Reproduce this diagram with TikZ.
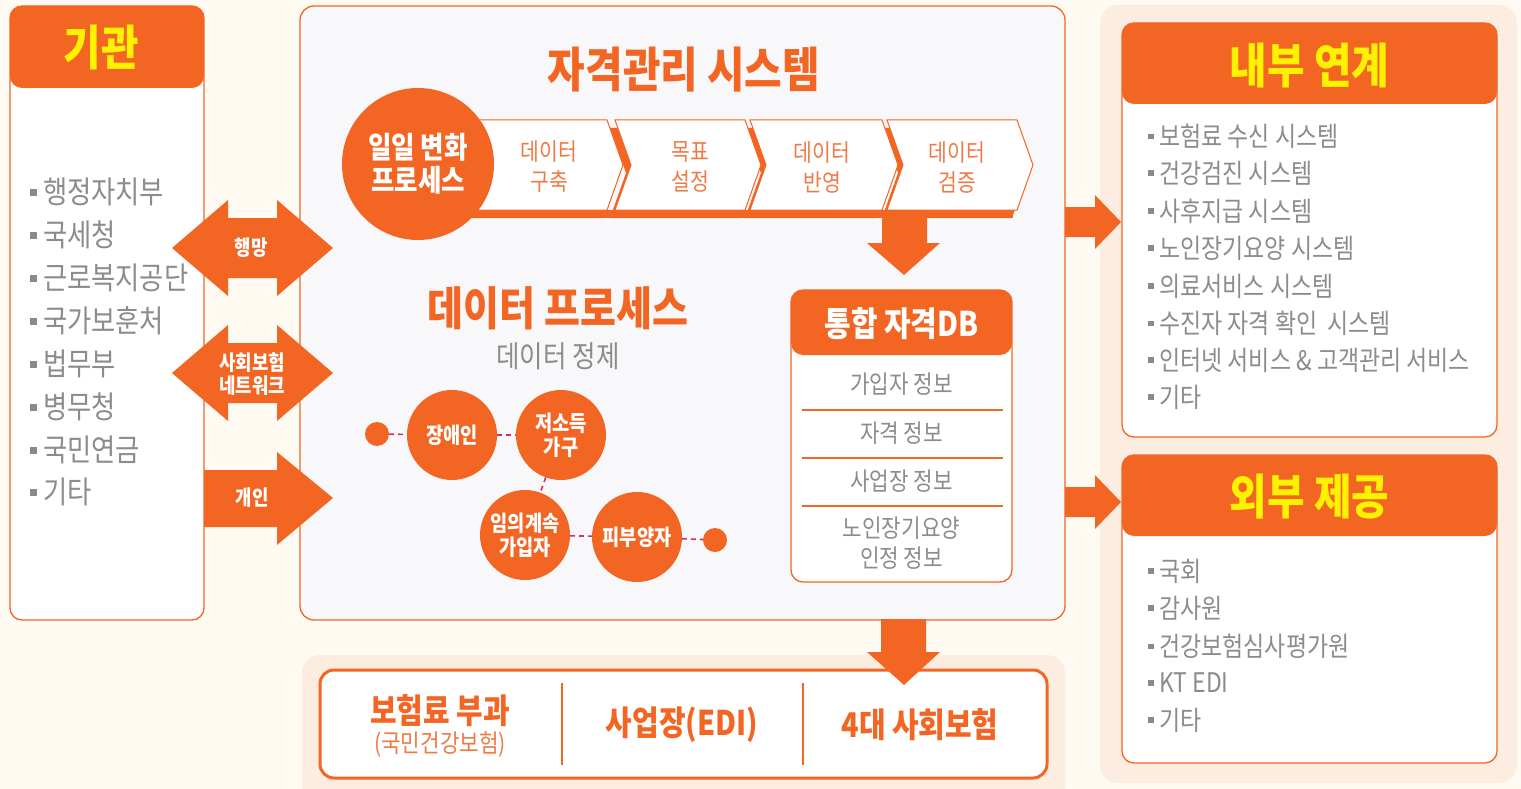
\documentclass[tikz,border=0pt]{standalone}
\usepackage{fontspec}
\setmainfont{Noto Sans CJK KR}[FakeStretch=0.85]
\usetikzlibrary{calc}
\definecolor{org}{HTML}{F26522}
\definecolor{ylw}{HTML}{FFF200}
\definecolor{gtx}{HTML}{8C8C8C}
\definecolor{bulc}{HTML}{8A8A8A}
\definecolor{cream}{HTML}{FFFBF2}
\definecolor{peach}{HTML}{FDEDE0}
\definecolor{pane}{HTML}{F8F8FA}
\definecolor{lorg}{HTML}{F07A45}
\definecolor{dpink}{HTML}{D2306B}
\newcommand\bul{\textcolor{bulc}{\rule[0.25em]{0.22em}{0.22em}}\hspace{0.2em}}
\begin{document}
\begin{tikzpicture}[x=1pt,y=-1pt,
  nb/.style={inner sep=0pt,outer sep=0pt},
  panel/.style={nb,draw=org,line width=1.3pt,fill=white,rounded corners=12pt},
  hdr/.style={path picture={\fill[org] ([yshift=2pt]path picture bounding box.north west) rectangle ([yshift=-#1]path picture bounding box.north east);}},
  ytitle/.style={nb,text=ylw,font=\bfseries\fontsize{48}{52}\selectfont},
  otitle/.style={nb,text=org,font=\bfseries\fontsize{48}{52}\selectfont},
  llist/.style={nb,anchor=west,text=gtx,font=\fontsize{31}{35}\selectfont},
  rlist/.style={nb,anchor=west,text=gtx,font=\fontsize{27}{31}\selectfont},
  alab/.style={nb,text=white,align=center,font=\bfseries\fontsize{21}{23}\selectfont},
  chevtxt/.style={nb,text=lorg,align=center,font=\fontsize{24}{30}\selectfont},
  bigcirc/.style={nb,circle,fill=org,minimum size=152pt,text=white,align=center,font=\bfseries\fontsize{30}{33}\selectfont},
  pcirc/.style={nb,circle,fill=org,minimum size=90pt,text=white,align=center,font=\bfseries\fontsize{22}{24}\selectfont},
  enddot/.style={nb,circle,fill=org,minimum size=24pt},
  dashc/.style={dpink,line width=1.6pt,dash pattern=on 5pt off 4pt},
  dbrow/.style={nb,text=gtx,align=center,font=\fontsize{25}{30}\selectfont},
  rowline/.style={org,line width=1.5pt},
  btxt/.style={nb,text=org,align=center,font=\bfseries\fontsize{34}{38}\selectfont},
]
% background
\fill[cream] (0,0) rectangle (1521,789);
\useasboundingbox (0,0) rectangle (1521,789);

% pale panels
\node[nb,fill=peach,rounded corners=18pt,minimum width=417pt,minimum height=778pt] (rpale) at (1308.5,394) {};
\node[nb,fill=peach,rounded corners=18pt,minimum width=763pt,minimum height=150pt] (bpale) at (683.5,730) {};

% left panel
\node[panel,hdr=82pt,minimum width=194pt,minimum height=614pt] (inst) at (107,313) {};
\node[ytitle] (instT) at (101,48) {기관};
\node[llist] (l1) at (30,192) {\bul 행정자치부};
\node[llist] (l2) at (30,235) {\bul 국세청};
\node[llist] (l3) at (30,278) {\bul 근로복지공단};
\node[llist] (l4) at (30,321) {\bul 국가보훈처};
\node[llist] (l5) at (30,364) {\bul 법무부};
\node[llist] (l6) at (30,407) {\bul 병무청};
\node[llist] (l7) at (30,450) {\bul 국민연금};
\node[llist] (l8) at (30,492) {\bul 기타};

% center panel
\node[panel,fill=pane,rounded corners=14pt,minimum width=765pt,minimum height=614pt] (sys) at (682.5,313) {};
\node[otitle] (sysT) at (684,70) {자격관리 시스템};

% left block arrows
\fill[org,shift={(253,248)}] (-81,0) -- (-25,-48) -- (-25,-30) -- (24,-30) -- (24,-48) -- (80,0) -- (24,48) -- (24,30) -- (-25,30) -- (-25,48) -- cycle;
\node[alab] (mang) at (251,248) {행망};
\fill[org,shift={(253,373)}] (-81,0) -- (-25,-48) -- (-25,-30) -- (24,-30) -- (24,-48) -- (80,0) -- (24,48) -- (24,30) -- (-25,30) -- (-25,48) -- cycle;
\node[alab] (net) at (252,374) {사회보험\\네트워크};
\fill[org] (204,470) -- (277,470) -- (277,452) -- (333,498) -- (277,545) -- (277,527) -- (204,527) -- cycle;
\node[alab] (indiv) at (252,498) {개인};

% chevrons
\fill[org] (465,210) rectangle (1013,218);
\foreach \xl/\xr in {470/607,615/745,750/882,887/1017}{
  \fill[org] ({\xl-5},128) -- ({\xr-5},128) -- ({\xr+11},173) -- ({\xr-5},218) -- ({\xl-5},218) -- ({\xl+11},173) -- cycle;
}
\foreach \xl/\xr in {470/607,615/745,750/882,887/1017}{
  \draw[org,line width=1pt,fill=white] (\xl,120) -- (\xr,120) -- ({\xr+16},165) -- (\xr,210) -- (\xl,210) -- ({\xl+16},165) -- cycle;
}
\node[chevtxt] (c1) at (549,167) {데이터\\구축};
\node[chevtxt] (c2) at (690,167) {목표\\설정};
\node[chevtxt] (c3) at (822,167) {데이터\\반영};
\node[chevtxt] (c4) at (957,167) {데이터\\검증};
\node[bigcirc] (daily) at (418,164) {일일 변화\\프로세스};

% down arrow to DB
\fill[org] (882,210) -- (927,210) -- (927,243) -- (940,243) -- (904,275) -- (867,243) -- (882,243) -- cycle;

% data process
\node[otitle,font=\bfseries\fontsize{46}{50}\selectfont] (dpT) at (558,308) {데이터 프로세스};
\node[nb,text=gtx,font=\fontsize{30}{34}\selectfont] (dpS) at (558,356) {데이터 정제};
\node[enddot] (dotL) at (377,434) {};
\node[pcirc] (p1) at (452,435) {장애인};
\node[pcirc] (p2) at (561,435) {저소득\\가구};
\node[pcirc] (p3) at (525,535) {임의계속\\가입자};
\node[pcirc] (p4) at (637,537) {피부양자};
\node[enddot] (dotR) at (715,540) {};
\draw[dashc] (dotL) -- (p1);
\draw[dashc] (p1) -- (p2);
\draw[dashc] (p2) -- (p3);
\draw[dashc] (p3) -- (p4);
\draw[dashc] (p4) -- (dotR);

% DB box
\node[panel,hdr=65pt,minimum width=221pt,minimum height=292pt] (db) at (901.5,436) {};
\node[nb,text=white,font=\bfseries\fontsize{34}{38}\selectfont] (dbT) at (901.5,324) {통합 자격DB};
\node[dbrow] (r1) at (901.5,384) {가입자 정보};
\draw[rowline] (802,410) -- (1003,410);
\node[dbrow] (r2) at (901.5,433) {자격 정보};
\draw[rowline] (802,458) -- (1003,458);
\node[dbrow] (r3) at (901.5,481) {사업장 정보};
\draw[rowline] (802,506) -- (1003,506);
\node[dbrow] (r4) at (901.5,543) {노인장기요양\\인정 정보};

% right arrows
\fill[org] (1065,207) -- (1095,207) -- (1095,195) -- (1121,222) -- (1095,249) -- (1095,237) -- (1065,237) -- cycle;
\fill[org] (1065,487) -- (1095,487) -- (1095,475) -- (1121,502) -- (1095,529) -- (1095,517) -- (1065,517) -- cycle;

% internal box
\node[panel,hdr=81pt,minimum width=375pt,minimum height=414pt] (inner) at (1309.5,230) {};
\node[ytitle] (innerT) at (1309.5,66) {내부 연계};
\node[rlist] (i1) at (1148,136) {\bul 보험료 수신 시스템};
\node[rlist] (i2) at (1148,173) {\bul 건강검진 시스템};
\node[rlist] (i3) at (1148,211) {\bul 사후지급 시스템};
\node[rlist] (i4) at (1148,248) {\bul 노인장기요양 시스템};
\node[rlist] (i5) at (1148,286) {\bul 의료서비스 시스템};
\node[rlist] (i6) at (1148,323) {\bul 수진자 자격 확인~ 시스템};
\node[rlist] (i7) at (1148,360) {\bul 인터넷 서비스 \& 고객관리 서비스};
\node[rlist] (i8) at (1148,397) {\bul 기타};

% external box
\node[panel,hdr=81pt,minimum width=375pt,minimum height=308pt] (outer) at (1309.5,609) {};
\node[ytitle] (outerT) at (1309.5,497) {외부 제공};
\node[rlist] (o1) at (1148,571) {\bul 국회};
\node[rlist] (o2) at (1148,608) {\bul 감사원};
\node[rlist] (o3) at (1148,646) {\bul 건강보험심사평가원};
\node[rlist] (o4) at (1148,683) {\bul KT EDI};
\node[rlist] (o5) at (1148,720) {\bul 기타};

% bottom bar
\node[nb,draw=org,line width=3pt,fill=white,rounded corners=14pt,minimum width=727pt,minimum height=108pt] (bar) at (683.5,724) {};
\node[btxt] (b1) at (440,711) {보험료 부과};
\node[nb,text=lorg,font=\fontsize{25}{28}\selectfont] (b1s) at (440,745) {(국민건강보험)};
\draw[org,line width=2.5pt] (562,683) -- (562,765);
\node[btxt] (b2) at (682,725) {사업장(EDI)};
\draw[org,line width=2.5pt] (803,683) -- (803,765);
\node[btxt] (b3) at (920,725) {4대 사회보험};

% down arrow to bottom bar
\fill[org] (881,619) -- (926,619) -- (926,652) -- (940,652) -- (904,685) -- (867,652) -- (881,652) -- cycle;
\end{tikzpicture}
\end{document}
